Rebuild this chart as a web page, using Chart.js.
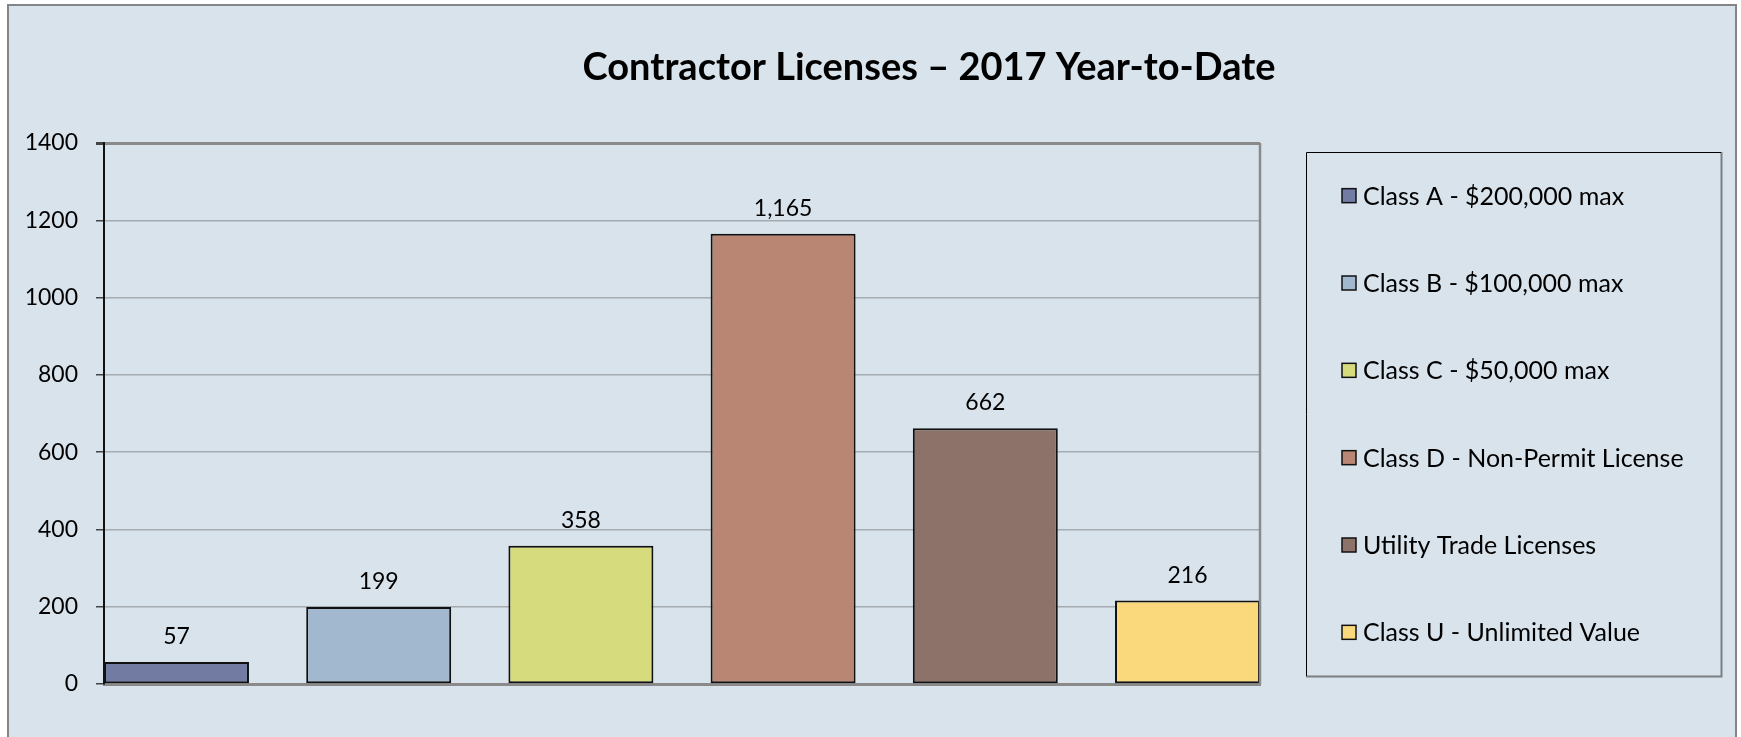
<!DOCTYPE html>
<html>
<head>
<meta charset="utf-8">
<title>Contractor Licenses – 2017 Year-to-Date</title>
<script src="https://cdn.jsdelivr.net/npm/chart.js@4.4.1/dist/chart.umd.min.js"></script>
<style>
  html, body { margin: 0; padding: 0; background: #ffffff; }
  canvas { display: block; }
</style>
</head>
<body>
<canvas id="chart" width="1741" height="737"></canvas>
<script>
// data
const chartTitle = 'Contractor Licenses – 2017 Year-to-Date';
const categories = [
  'Class A - $200,000 max',
  'Class B - $100,000 max',
  'Class C - $50,000 max',
  'Class D - Non-Permit License',
  'Utility Trade Licenses',
  'Class U - Unlimited Value'
];
const values = [57, 199, 358, 1165, 662, 216];
const yTicks = [0, 200, 400, 600, 800, 1000, 1200, 1400];

// styles
const barColors = ['#727ca3', '#a2b8cf', '#d6dc7e', '#b88672', '#8c7268', '#fad97c'];
const bgColor = '#d9e3ec';
const fontFamily = 'Lato, "Open Sans", sans-serif';
const barFrac = 0.717;   // bar width / bar pitch

const datasets = categories.map((name, i) => ({
  label: name,
  data: [{ x: i, y: values[i] }],
  backgroundColor: barColors[i],
  borderColor: '#111111',
  borderWidth: 2,
  borderSkipped: false,
  grouped: false,
  categoryPercentage: 1,
  barPercentage: barFrac
}));

// chart background + outer border + plot frame (right side)
const framePlugin = {
  id: 'framePlugin',
  beforeDraw(chart) {
    const ctx = chart.ctx;
    ctx.save();
    ctx.fillStyle = '#ffffff';
    ctx.fillRect(0, 0, chart.width, chart.height);
    ctx.fillStyle = bgColor;
    ctx.fillRect(8, 5, 1728, chart.height);
    ctx.strokeStyle = '#858585';
    ctx.lineWidth = 2;
    ctx.strokeRect(8, 5, 1728, chart.height + 10);
    ctx.restore();
  },
  afterDatasetsDraw(chart) {
    const { ctx, chartArea: a } = chart;
    ctx.save();
    ctx.strokeStyle = '#8a8a8a';
    ctx.lineWidth = 2.5;
    ctx.beginPath();
    ctx.moveTo(a.right, a.top);
    ctx.lineTo(a.right, a.bottom);
    ctx.stroke();
    ctx.restore();
  }
};

// value labels above bars
const valueLabels = {
  id: 'valueLabels',
  afterDatasetsDraw(chart) {
    const ctx = chart.ctx;
    ctx.save();
    ctx.font = '23px ' + fontFamily;
    ctx.fillStyle = '#000000';
    ctx.textAlign = 'center';
    ctx.textBaseline = 'alphabetic';
    chart.data.datasets.forEach((ds, i) => {
      chart.getDatasetMeta(i).data.forEach((bar, j) => {
        ctx.fillText(ds.data[j].y.toLocaleString('en-US'), bar.x, bar.y - 18);
      });
    });
    ctx.restore();
  }
};

// title, placed off-centre like the original
const titlePlugin = {
  id: 'titlePlugin',
  afterDraw(chart) {
    const ctx = chart.ctx;
    ctx.save();
    ctx.font = 'bold 38px ' + fontFamily;
    ctx.fillStyle = '#000000';
    ctx.textAlign = 'center';
    ctx.textBaseline = 'alphabetic';
    ctx.fillText(chartTitle, 929, 80);
    ctx.restore();
  }
};

// boxed legend on the right
const boxLegend = {
  id: 'boxLegend',
  afterDraw(chart) {
    const ctx = chart.ctx;
    const left = 1306, top = 152, right = 1721, bottom = 676;
    ctx.save();
    ctx.strokeStyle = '#7a7f84';
    ctx.lineWidth = 2;
    ctx.beginPath();
    ctx.moveTo(right + 0.5, top);
    ctx.lineTo(right + 0.5, bottom + 0.5);
    ctx.lineTo(left, bottom + 0.5);
    ctx.stroke();
    ctx.strokeStyle = '#000000';
    ctx.lineWidth = 1;
    ctx.beginPath();
    ctx.moveTo(left + 0.5, bottom);
    ctx.lineTo(left + 0.5, top + 0.5);
    ctx.lineTo(right, top + 0.5);
    ctx.stroke();

    const step = (bottom - top) / chart.data.datasets.length;
    ctx.font = '25px ' + fontFamily;
    ctx.textBaseline = 'middle';
    ctx.textAlign = 'left';
    chart.data.datasets.forEach((ds, i) => {
      const cy = top + step * (i + 0.5);
      ctx.fillStyle = ds.backgroundColor;
      ctx.fillRect(1342, cy - 7, 14, 14);
      ctx.strokeStyle = '#111111';
      ctx.lineWidth = 1.5;
      ctx.strokeRect(1342, cy - 7, 14, 14);
      ctx.fillStyle = '#000000';
      ctx.fillText(ds.label, 1363, cy + 1);
    });
    ctx.restore();
  }
};

new Chart(document.getElementById('chart'), {
  type: 'bar',
  data: { datasets },
  plugins: [framePlugin, valueLabels, titlePlugin, boxLegend],
  options: {
    responsive: false,
    animation: false,
    layout: { padding: { left: 0, top: 143, right: 481, bottom: 53 } },
    plugins: {
      legend: { display: false },
      title: { display: false },
      tooltip: { enabled: false }
    },
    scales: {
      x: {
        type: 'linear',
        min: -barFrac / 2,
        max: categories.length - 1 + barFrac / 2,
        offset: false,
        afterBuildTicks: s => { s.ticks = categories.map((c, i) => ({ value: i })); },
        ticks: { display: false },
        grid: { display: false, offset: false },
        border: { display: true, color: '#8a8a8a', width: 3 },
        afterFit: s => { s.height = 0; }
      },
      y: {
        min: 0,
        max: 1400,
        afterBuildTicks: s => { s.ticks = yTicks.map(v => ({ value: v })); },
        ticks: {
          color: '#000000',
          padding: 18,
          font: { family: fontFamily, size: 23 },
          callback: v => String(v)
        },
        grid: {
          color: ctx => ctx.tick && ctx.tick.value === 1400 ? '#8a8a8a' : '#a6abb0',
          lineWidth: ctx => ctx.tick && ctx.tick.value === 1400 ? 3 : 1.5,
          tickLength: 8,
          tickColor: '#444444'
        },
        border: { display: true, color: '#111111', width: 2 },
        afterFit: s => { s.width = 104; }
      }
    }
  }
});
</script>
</body>
</html>
